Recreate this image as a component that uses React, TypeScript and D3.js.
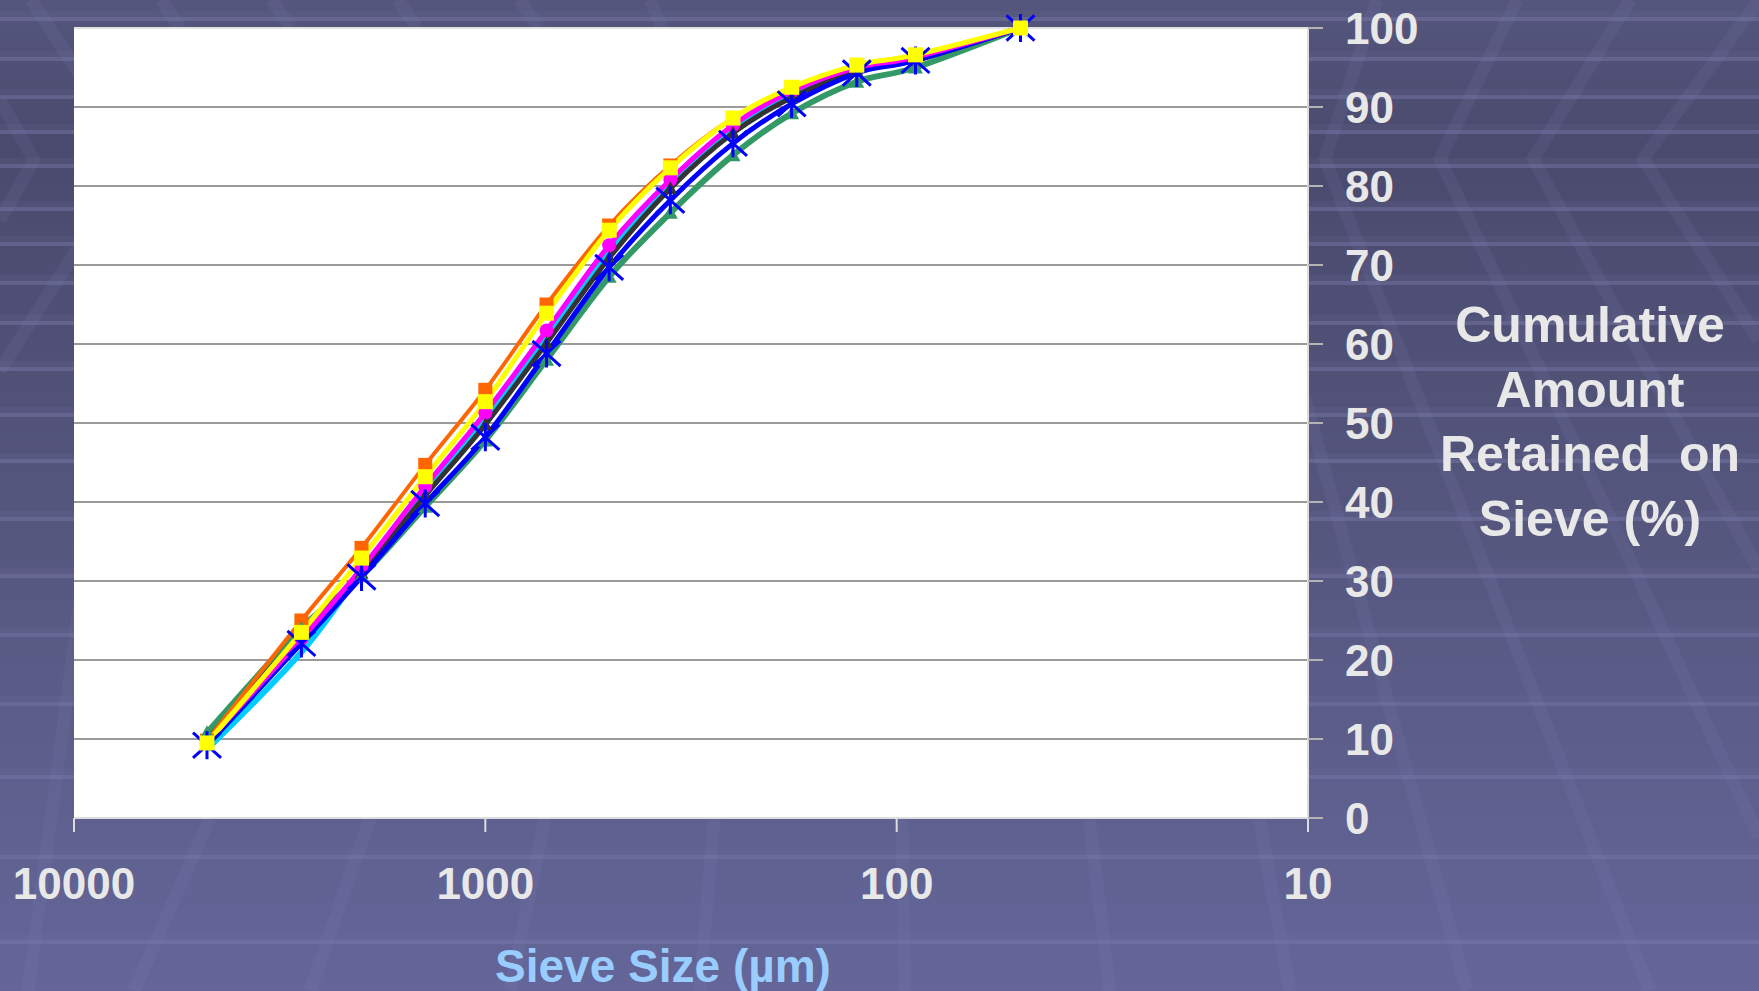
import React, { useEffect } from "react";
import * as d3 from "d3";

// ---- data ----
const sieveSizes = [4750, 2800, 2000, 1400, 1000, 710, 500, 355, 250, 180, 125, 90, 50];
const orangeValues = [9.8, 25.0, 34.2, 44.7, 54.2, 65.0, 75.0, 82.6, 88.6, 92.4, 95.3, 96.6, 100];
const yellowValues = [9.5, 23.5, 32.9, 43.2, 52.7, 63.9, 74.4, 82.3, 88.6, 92.5, 95.3, 96.6, 100];
const magentaValues = [9.6, 22.7, 31.6, 42.0, 51.3, 61.7, 72.5, 80.8, 87.7, 92.0, 95.0, 96.3, 100];
const cyanValues = [8.7, 21.0, 31.2, 41.4, 50.7, 61.2, 72.0, 80.2, 87.1, 91.6, 94.8, 96.1, 100];
const blackValues = [9.9, 23.3, 31.0, 40.8, 49.8, 60.1, 70.9, 79.7, 86.7, 91.2, 94.5, 95.9, 100];
const blueValues = [9.2, 22.1, 30.5, 39.8, 48.2, 58.8, 69.7, 78.2, 85.4, 90.4, 94.3, 95.9, 100];
const greenValues = [10.8, 24.0, 30.6, 39.4, 47.8, 58.0, 68.5, 76.6, 83.9, 89.2, 93.2, 95.0, 100];
const xTickValues = [10000, 1000, 100, 10];
const yTickValues = [0, 10, 20, 30, 40, 50, 60, 70, 80, 90, 100];
const yTitleLines = ["Cumulative", "Amount", "Retained  on", "Sieve (%)"];
const xTitle = "Sieve Size (µm)";

// ---- layout / style ----
const W = 1759;
const H = 991;
const P = { left: 74, right: 1308, top: 28, bottom: 818 };
const FONT = "'Liberation Sans', Arial, Helvetica, sans-serif";

type Marker = "square" | "circle" | "triangle" | "star" | "none";
const seriesList: { values: number[]; color: string; width: number; marker: Marker; msize: number }[] = [
  { values: cyanValues, color: "#00ccff", width: 6, marker: "none", msize: 0 },
  { values: greenValues, color: "#339966", width: 6, marker: "triangle", msize: 15 },
  { values: blackValues, color: "#333333", width: 5, marker: "triangle", msize: 14 },
  { values: blueValues, color: "#0000ff", width: 5, marker: "star", msize: 14 },
  { values: magentaValues, color: "#ff00ff", width: 5, marker: "circle", msize: 14 },
  { values: orangeValues, color: "#ff6600", width: 4, marker: "square", msize: 14 },
  { values: yellowValues, color: "#ffff00", width: 5, marker: "square", msize: 15 },
];
const markerOrder = [5, 4, 2, 1, 3, 6];

// decorative background
const stripeYs = [17, 57, 95, 130, 164, 207, 242, 281, 321, 367, 413, 459, 517, 574, 633, 702, 775, 855, 940];
const bgLines: [number, number][][] = [
  [[1377, 0], [1325, 159], [1650, 991]],
  [[1517, 0], [1440, 159], [1630, 560], [1759, 837]],
  [[1630, 0], [1533, 159], [1759, 570]],
  [[1759, 0], [1643, 159], [1759, 340]],
  [[1300, 380], [1467, 991]],
  [[31, 0], [80, 75]],
  [[0, 100], [34, 160], [0, 220]],
  [[80, 245], [0, 370]],
  [[80, 600], [28, 991]],
  [[161, 0], [180, 28]],
  [[272, 0], [291, 28]],
  [[398, 0], [417, 28]],
  [[520, 0], [539, 28]],
  [[650, 0], [662, 28]],
  [[210, 818], [134, 991]],
  [[370, 818], [310, 991]],
  [[545, 818], [510, 991]],
  [[714, 818], [700, 991]],
  [[902, 818], [905, 991]],
  [[1089, 818], [1110, 991]],
  [[1259, 818], [1290, 991]],
];

export default function App() {
  useEffect(() => {
    document.body.style.margin = "0";
    document.body.style.overflow = "hidden";
  }, []);

  const x = d3.scaleLog().domain([10000, 10]).range([P.left, P.right]);
  const y = d3.scaleLinear().domain([0, 100]).range([P.bottom, P.top]);
  const line = d3
    .line<number>()
    .x((_, i) => x(sieveSizes[i]))
    .y((v) => y(v))
    .curve(d3.curveCardinal.tension(0));

  const renderMarker = (m: Marker, s: number, color: string, key: string, cx: number, cy: number) => {
    const h = s / 2;
    if (m === "square")
      return <rect key={key} x={cx - h} y={cy - h} width={s} height={s} fill={color} />;
    if (m === "circle") return <circle key={key} cx={cx} cy={cy} r={h} fill={color} />;
    if (m === "triangle")
      return (
        <path key={key} d={`M${cx},${cy - h}L${cx + h},${cy + h * 0.8}L${cx - h},${cy + h * 0.8}Z`} fill={color} />
      );
    if (m === "star")
      return (
        <path
          key={key}
          d={`M${cx},${cy - s}L${cx},${cy + s}M${cx - s},${cy - s * 0.9}L${cx + s},${cy + s * 0.9}M${cx + s},${cy - s * 0.9}L${cx - s},${cy + s * 0.9}`}
          stroke={color}
          strokeWidth={3}
          fill="none"
        />
      );
    return null;
  };

  return (
    <svg width={W} height={H} style={{ position: "absolute", left: 0, top: 0, display: "block" }}>
      <defs>
        <linearGradient id="bg" x1="0" y1="0" x2="0" y2="1">
          <stop offset="0" stopColor="#55567d" />
          <stop offset="0.15" stopColor="#4a4a6e" />
          <stop offset="0.55" stopColor="#56577f" />
          <stop offset="1" stopColor="#646699" />
        </linearGradient>
      </defs>
      <rect x={0} y={0} width={W} height={H} fill="url(#bg)" />
      {stripeYs.map((sy, i) => (
        <g key={"st" + i}>
          <rect x={0} y={sy - 6} width={W} height={6} fill="#7172a2" opacity={0.15} />
          <rect x={0} y={sy} width={W} height={4} fill="#7a7bab" opacity={0.45} />
        </g>
      ))}
      {bgLines.map((pts, i) => (
        <path
          key={"bl" + i}
          d={d3.line()(pts) || ""}
          stroke="#8586b8"
          strokeOpacity={0.13}
          strokeWidth={13}
          fill="none"
        />
      ))}

      {/* plot area */}
      <rect x={P.left} y={P.top} width={P.right - P.left} height={P.bottom - P.top} fill="#ffffff" />
      {yTickValues
        .filter((v) => v > 0 && v < 100)
        .map((v) => (
          <line key={"g" + v} x1={P.left} x2={P.right} y1={y(v)} y2={y(v)} stroke="#9a9a9a" strokeWidth={2} />
        ))}
      <line x1={P.left} x2={P.right} y1={y(100)} y2={y(100)} stroke="#e2e2e2" strokeWidth={2} />
      <line x1={P.left} x2={P.right} y1={y(0)} y2={y(0)} stroke="#dddddd" strokeWidth={2} />
      <line x1={P.right} x2={P.right} y1={P.top} y2={P.bottom + 14} stroke="#dddddd" strokeWidth={2} />

      {/* x ticks + labels */}
      {xTickValues.map((v) => (
        <g key={"xt" + v}>
          <line x1={x(v)} x2={x(v)} y1={P.bottom} y2={P.bottom + 14} stroke="#dddddd" strokeWidth={2} />
          <text
            x={x(v)}
            y={899}
            textAnchor="middle"
            fontFamily={FONT}
            fontWeight="bold"
            fontSize={44}
            fill="#e8e8e8"
          >
            {v}
          </text>
        </g>
      ))}
      {/* y ticks + labels */}
      {yTickValues.map((v) => (
        <g key={"yt" + v}>
          <line x1={P.right} x2={P.right + 15} y1={y(v)} y2={y(v)} stroke="#b4b4b4" strokeWidth={2} />
          <text
            x={1345}
            y={y(v)}
            dy="0.36em"
            textAnchor="start"
            fontFamily={FONT}
            fontWeight="bold"
            fontSize={44}
            fill="#e8e8e8"
          >
            {v}
          </text>
        </g>
      ))}

      {/* series lines */}
      {seriesList.map((s, i) => (
        <path
          key={"ln" + i}
          d={line(s.values) || ""}
          fill="none"
          stroke={s.color}
          strokeWidth={s.width}
          strokeLinejoin="round"
        />
      ))}
      {/* markers */}
      {markerOrder.map((si) => {
        const s = seriesList[si];
        return (
          <g key={"mk" + si}>
            {s.values.map((v, i) =>
              renderMarker(s.marker, s.msize, s.color, `m${si}-${i}`, x(sieveSizes[i]), y(v))
            )}
          </g>
        );
      })}

      {/* titles */}
      <text
        x={663}
        y={982}
        textAnchor="middle"
        fontFamily={FONT}
        fontWeight="bold"
        fontSize={46}
        fill="#99ccff"
      >
        {xTitle}
      </text>
      {yTitleLines.map((t, i) => (
        <text
          key={"yl" + i}
          x={1590}
          y={342 + i * 64.7}
          textAnchor="middle"
          fontFamily={FONT}
          fontWeight="bold"
          fontSize={50}
          fill="#e8e8e8"
          style={{ whiteSpace: "pre" }}
        >
          {t}
        </text>
      ))}
    </svg>
  );
}
